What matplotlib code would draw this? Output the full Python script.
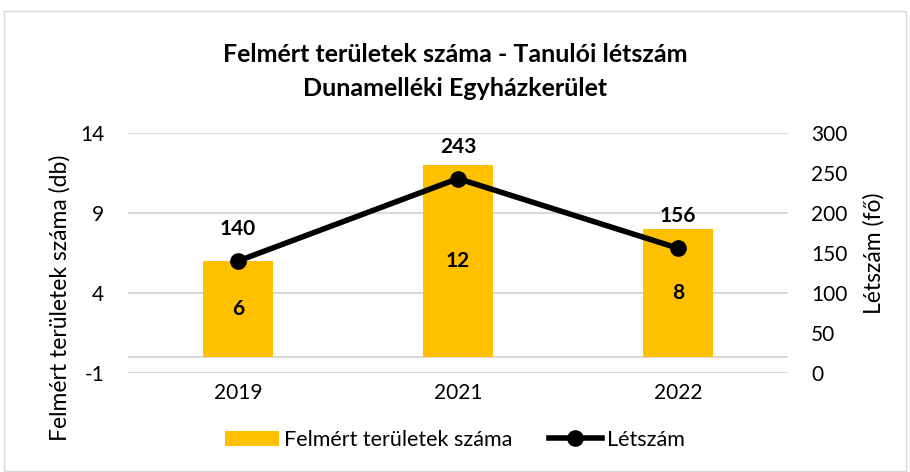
import numpy as np
import matplotlib.pyplot as plt
from matplotlib.patches import Rectangle

plt.rcParams['font.family'] = ['Lato', 'DejaVu Sans']
plt.rcParams['axes.unicode_minus'] = False

years = ['2019', '2021', '2022']
areas = [6, 12, 8]          # felmért területek száma (db)
students = [140, 243, 156]  # létszám (fő)

bar_color = '#FFC000'
grid_color = '#D9D9D9'

fig = plt.figure(figsize=(9.1, 4.72), dpi=100)
ax = fig.add_axes([128 / 910, 1 - 373 / 472, 660 / 910, 240 / 472])
ax2 = ax.twinx()

x = np.arange(len(years))
bars = ax.bar(x, areas, width=0.32, color=bar_color, zorder=2, label='Felmért területek száma')
line, = ax2.plot(x, students, color='black', lw=4, marker='o', ms=11, zorder=3, label='Létszám')

ax.set_xlim(-0.5, 2.5)
ax.set_ylim(-1, 14)
ax.set_yticks([-1, 4, 9, 14])
ax2.set_ylim(0, 300)
ax2.set_yticks(range(0, 301, 50))
ax.set_xticks(x)
ax.set_xticklabels(years)

for a in (ax, ax2):
    for s in a.spines.values():
        s.set_visible(False)
    a.tick_params(length=0, labelsize=15, colors='#000000')
ax.tick_params(axis='y', pad=17)
ax2.tick_params(axis='y', pad=16.5)
ax.tick_params(axis='x', pad=7)

for v in [-1, 0, 4, 9, 14]:
    ax.axhline(v, color=grid_color, lw=1.5, zorder=1)

fig.text(60 / 910, 1 - 298 / 472, 'Felmért területek száma (db)', rotation=90,
         ha='center', va='center', fontsize=16.5)
fig.text(874 / 910, 1 - 253 / 472, 'Létszám (fő)', rotation=90,
         ha='center', va='center', fontsize=16.5)

for xi, v in zip(x, areas):
    ax.text(xi, v / 2, str(v), ha='center', va='center', fontsize=15, fontweight='bold', zorder=4)
for xi, v in zip(x, students):
    ax2.text(xi, v + 40, str(v), ha='center', va='center', fontsize=15, fontweight='bold', zorder=4)

ax.set_zorder(ax2.get_zorder() - 1)
ax2.patch.set_visible(False)

fig.text(0.5, 1 - 55 / 472, 'Felmért területek száma - Tanulói létszám', ha='center', va='center',
         fontsize=18, fontweight='bold')
fig.text(0.5, 1 - 88 / 472, 'Dunamelléki Egyházkerület', ha='center', va='center',
         fontsize=18, fontweight='bold')

fig.legend([bars, line], ['Felmért területek száma', 'Létszám'], loc='center',
           bbox_to_anchor=(0.5, 1 - 440 / 472), ncol=2, frameon=False, fontsize=15.5,
           handlelength=2.5, handletextpad=0.2, columnspacing=1.7)

fig.patches.append(Rectangle((4 / 910, 0.002), 902 / 910, 1 - 11 / 472 - 0.002, transform=fig.transFigure,
                             fill=False, edgecolor='#D9D9D9', lw=1))

fig.savefig('out.png', dpi=100)
